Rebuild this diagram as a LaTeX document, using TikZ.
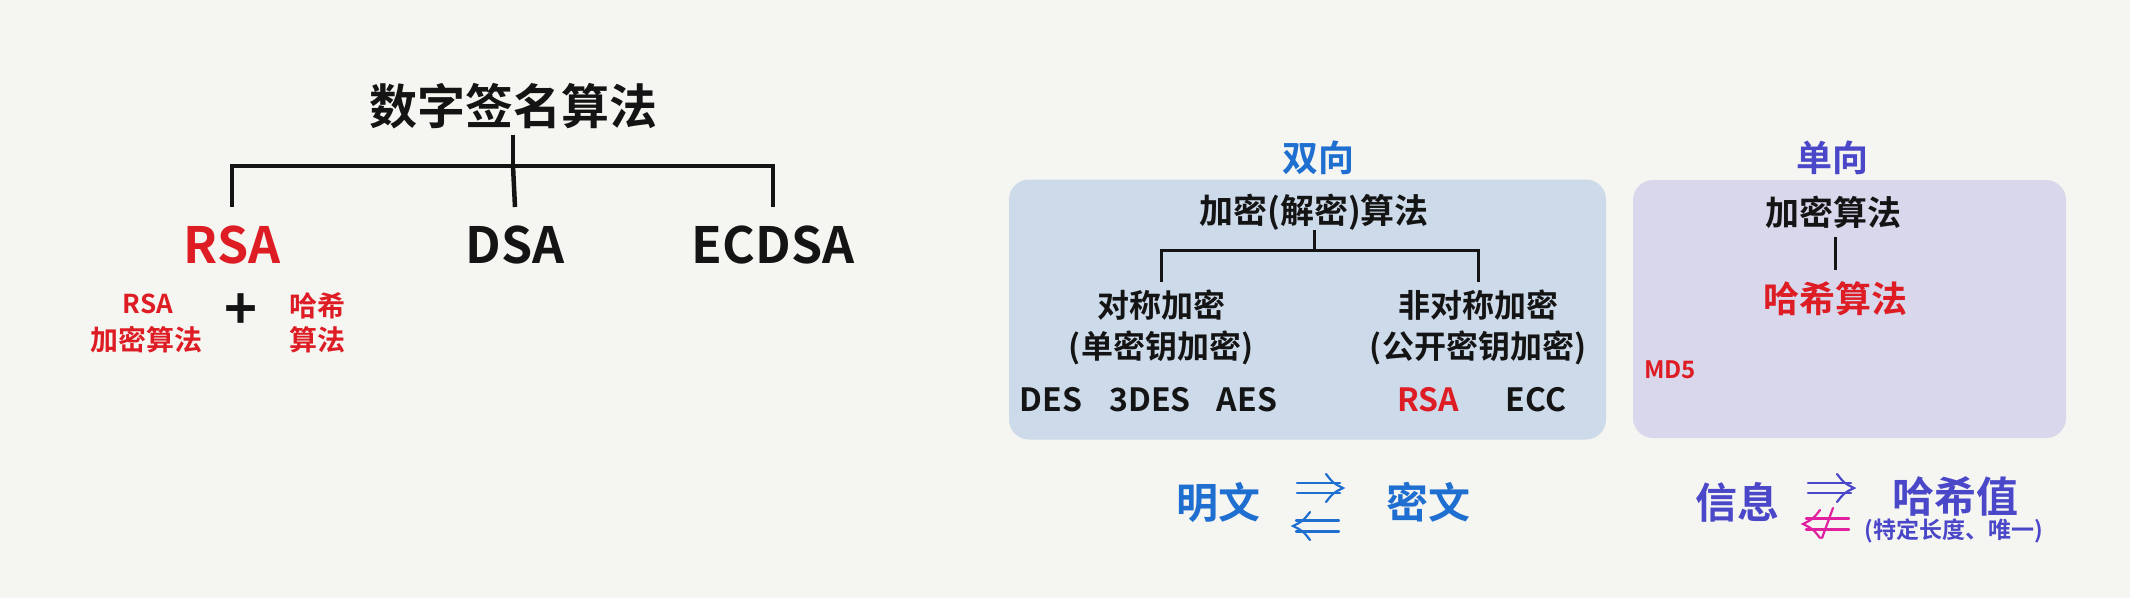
\documentclass[tikz,border=0pt]{standalone}
\usepackage{fontspec}
\setmainfont{Noto Sans CJK SC}[BoldFont={Noto Sans CJK SC Bold}]
\definecolor{bg}{HTML}{F5F5F1}
\definecolor{boxblue}{HTML}{CCDAEA}
\definecolor{boxpurple}{HTML}{D8D7EC}
\definecolor{blueA}{HTML}{1F6FD1}
\definecolor{purpleA}{HTML}{4B47C9}
\definecolor{redA}{HTML}{DD1C24}
\definecolor{magA}{HTML}{E0209F}
\definecolor{inkA}{HTML}{141414}
\tikzset{
  txt/.style={inner sep=0pt, text=inkA, font=\bfseries\fontsize{#1}{#1}\selectfont},
  tree/.style={line width=4.5pt, draw=inkA},
  treeB/.style={line width=3pt, draw=inkA},
  arr/.style={line width=2.2pt, line cap=round},
  dblr/.pic={
    \draw[arr] (-23,-5) -- (20,-5) (-23,5) -- (20,5);
    \draw[arr] (6,-14) .. controls (13,-5) .. (23,0) .. controls (13,5) .. (6,14);
  },
  dbll/.pic={
    \draw[arr] (23,-5.5) -- (-20,-5.5) (23,5.5) -- (-20,5.5);
    \draw[arr] (-6,-14) .. controls (-13,-5) .. (-23,0) .. controls (-13,5) .. (-6,14);
  },
  dblnl/.pic={
    \draw[arr] (23,-5.5) -- (-20,-5.5) (23,5.5) -- (-20,5.5);
    \draw[arr] (-6,-14) .. controls (-13,-5) .. (-23,0) .. controls (-13,5) .. (-6,14);
    \draw[arr] (7,-16) -- (-4,14);
  }
}
\begin{document}
\begin{tikzpicture}[x=1pt,y=-1pt]
\fill[bg] (0,0) rectangle (2130,598);
\useasboundingbox (0,0) rectangle (2130,598);

% left tree
\node[txt=48] (title) at (513,106) {数字签名算法};
\coordinate (j1) at (513,166);
\node[txt=50, text=redA] (rsa) at (232,245) {RSA};
\node[txt=50] (dsa) at (515,245) {DSA};
\node[txt=50] (ecdsa) at (773,245) {ECDSA};
\draw[tree] (title.south |- 0,135) -- (j1);
\draw[tree] (rsa.north |- 0,207) -- (rsa.north |- j1) -- (ecdsa.north |- j1) -- (ecdsa.north |- 0,207);
\draw[tree] (j1) -- (dsa.north |- 0,207);

\node[txt=26, text=redA] (rsa2) at (148,304) {RSA};
\node[txt=28, text=redA] (jm) at (146,340) {加密算法};
\node[txt=56] (plus) at (241,312) {+};
\node[txt=28, text=redA] (hx) at (317,306) {哈希};
\node[txt=28, text=redA] (sf) at (317,340) {算法};

% middle box
\node[fill=boxblue, rounded corners=20pt, minimum width=597pt, minimum height=260pt, inner sep=0pt] (symbox) at (1307.5,309.5) {};
\node[txt=36, text=blueA] (sx) at (1318,158) {双向};
\node[txt=34] (alg) at (1314,212) {加密(解密)算法};
\coordinate (j2) at (1314,250);
\node[txt=32] (sym) at (1161,305) {对称加密};
\node[txt=32] (sym2) at (1161,348) {(单密钥加密)};
\node[txt=32] (asym) at (1478,305) {非对称加密};
\node[txt=32] (asym2) at (1478,348) {(公开密钥加密)};
\draw[treeB] (alg.south |- 0,230) -- (j2);
\draw[treeB] (sym.north |- 0,282) -- (sym.north |- j2) -- (asym.north |- j2) -- (asym.north |- 0,282);
\node[txt=32] (des) at (1051,400) {DES};
\node[txt=32] (tdes) at (1150,400) {3DES};
\node[txt=32] (aes) at (1247,400) {AES};
\node[txt=32, text=redA] (rsa3) at (1428,400) {RSA};
\node[txt=32] (ecc) at (1536,400) {ECC};

% right box
\node[fill=boxpurple, rounded corners=20pt, minimum width=433pt, minimum height=258pt, inner sep=0pt] (hashbox) at (1849.5,309) {};
\node[txt=36, text=purpleA] (dx) at (1832,158) {单向};
\node[txt=34] (alg2) at (1833,212) {加密算法};
\node[txt=36, text=redA] (hash) at (1835,299) {哈希算法};
\draw[treeB] (hash.north |- 0,237) -- (hash.north |- 0,270);
\node[txt=24, text=redA] (md5) at (1670,370) {MD5};

% bottom
\node[txt=42, text=blueA] (mw) at (1218,502) {明文};
\node[txt=42, text=blueA] (cw) at (1428,502) {密文};
\pic[color=blueA] at (1320,488) {dblr};
\pic[color=blueA] at (1316,526) {dbll};
\node[txt=42, text=purpleA] (xx) at (1737,502) {信息};
\node[txt=42, text=purpleA] (hv) at (1955,496) {哈希值};
\node[txt=23, text=purpleA] (hv2) at (1954,531) {(特定长度、唯一)};
\pic[color=purpleA] at (1831,488) {dblr};
\pic[color=magA] at (1826,524) {dblnl};
\end{tikzpicture}
\end{document}
